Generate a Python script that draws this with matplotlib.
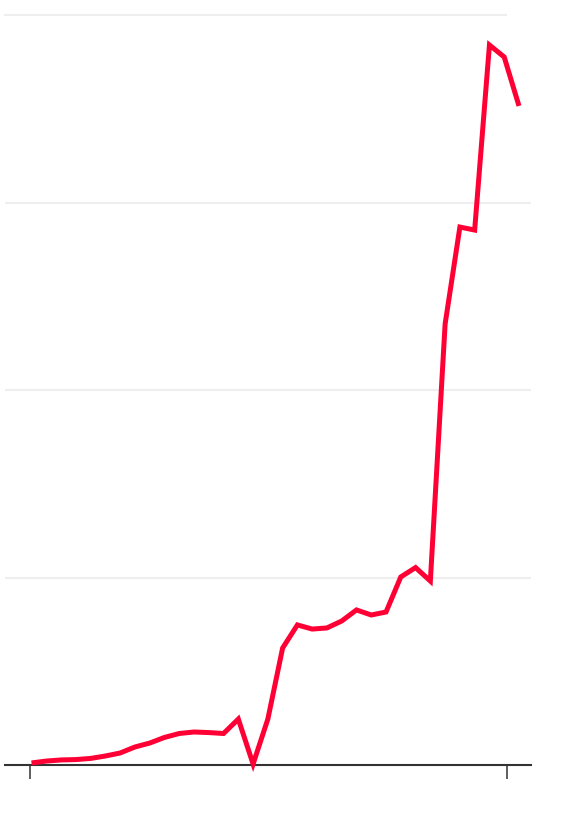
import matplotlib
matplotlib.use("Agg")
import matplotlib.pyplot as plt

# data (gridline = 100 units)
periods = list(range(34))
values = [1.1, 2.1, 2.7, 2.9, 3.5, 4.8, 6.4, 9.6, 11.7, 14.7, 16.8, 17.6, 17.3, 16.8,
          24.5, 0.5, 24.5, 62.4, 74.7, 72.5, 73.1, 76.8, 82.7, 80.0, 81.6, 100.3,
          105.3, 98.1, 235.2, 286.9, 285.3, 384.0, 377.6, 351.5]
grid_values = [100, 200, 300]
top_grid = 400
xtick_positions = [-0.10, 32.17]

fig = plt.figure(figsize=(5.88, 8.16), dpi=100)
ax = fig.add_axes([5/588, 51/816, 525.5/588, 750/816])
ax.set_xlim(-1.794, 33.78)
ax.set_ylim(0, 400)

for g in grid_values:
    ax.axhline(g, color="#eeeeee", lw=1.5, zorder=0)
ax.axhline(top_grid, xmin=0, xmax=501/525.5, color="#eeeeee", lw=1.5, zorder=0, clip_on=False)

ax.plot(periods, values, color="#ff0035", lw=3.6, solid_capstyle="butt",
        solid_joinstyle="miter", zorder=3, clip_on=False)

for s in ["top", "right", "left"]:
    ax.spines[s].set_visible(False)
ax.spines["bottom"].set_color("#333333")
ax.spines["bottom"].set_linewidth(1.5)
ax.spines["bottom"].set_zorder(2)
ax.set_yticks([])
ax.set_xticks(xtick_positions)
ax.set_xticklabels([])
ax.tick_params(axis="x", length=10, width=1.1, color="#333333", direction="out")

fig.savefig("out.png", dpi=100)
